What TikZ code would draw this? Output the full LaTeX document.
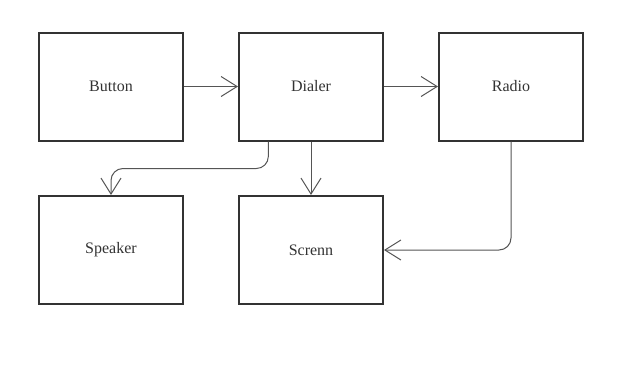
\documentclass[tikz,border=0pt]{standalone}
\usepackage{fontspec}
\setmainfont{Liberation Serif}
\usepackage{xcolor}
\usepackage{tikz}
\usetikzlibrary{arrows.meta,positioning,calc}
\definecolor{boxgray}{HTML}{333333}
\definecolor{flgray}{HTML}{555555}
\definecolor{txtgray}{HTML}{333333}

\begin{document}
\begin{tikzpicture}[
    x=0.75pt,y=-0.75pt,
    bx/.style  = {rectangle,draw=boxgray,line width=1.5pt,fill=white,text=txtgray,
                  align=center,font=\fontsize{12pt}{14pt}\selectfont,
                  minimum width=108pt,minimum height=81pt,inner sep=0pt},
    fl/.style  = {-{Straight Barb[length=12pt,width=15pt,line width=0.75pt]},
                  draw=flgray,line width=0.75pt,rounded corners=9pt},
  ]
  \useasboundingbox (0,0) rectangle (632,372);

  \node[bx] (btn) at (111,86.5) {Button};
  \node[bx] (dia) at (311,86.5) {Dialer};
  \node[bx] (rad) at (511,86.5) {Radio};

  \node[bx] (spk) at (111,250) {Speaker};
  \node[bx] (scr) at (311,250) {Screnn};

  \foreach \a/\b in {btn/dia,dia/rad} \draw[fl] (\a) -- (\b);
  \draw[fl] ([xshift=-32pt]dia.south) -- ++(0,27) -| (spk.north);
  \draw[fl] (dia) -- (scr);
  \draw[fl] (rad.south) |- (scr.east);

\end{tikzpicture}
\end{document}
